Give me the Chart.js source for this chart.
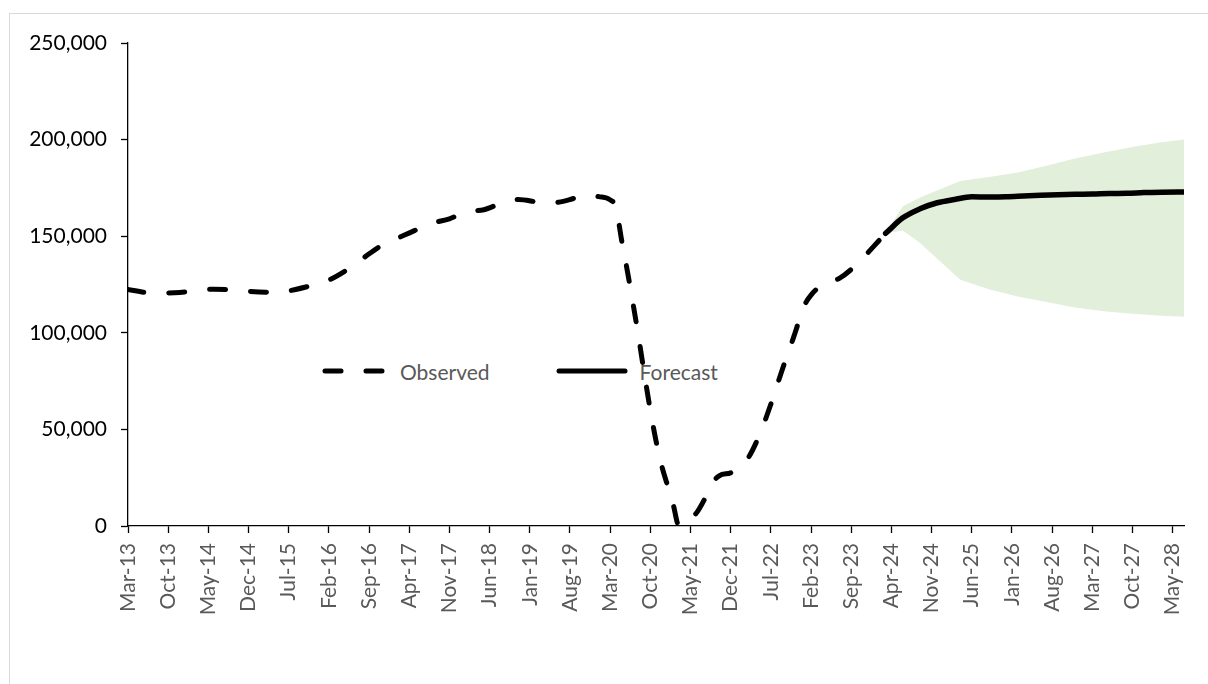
<!DOCTYPE html>
<html>
<head>
<meta charset="utf-8">
<script src="https://cdn.jsdelivr.net/npm/chart.js@4.4.1/dist/chart.umd.min.js"></script>
<style>
  html, body { margin: 0; padding: 0; background: #fff; overflow: hidden; }
  #wrap { position: relative; width: 1208px; height: 684px; }
  #frame { position: absolute; left: 9px; top: 13px; width: 1400px; height: 900px;
           border: 1.5px solid #d9d9d9; box-sizing: border-box; }
  #legend { position: absolute; left: 322px; top: 358px; height: 26px; display: flex;
            align-items: center; font-family: Lato, "Liberation Sans", sans-serif;
            font-size: 21px; color: #595959; z-index: 1; }
  #legend .item { display: flex; align-items: center; }
  #legend svg { display: block; margin-right: 12px; }
  #chart { position: absolute; left: 0; top: 0; z-index: 2; }
</style>
</head>
<body>
<div id="wrap">
  <div id="frame"></div>
  <div id="legend"></div>
  <canvas id="chart" width="1208" height="684"></canvas>
</div>
<script>
// Monthly series, dates written as they appear on the axis ("Mon-YY").
const seriesNames = ['Observed', 'Forecast'];

const tickLabels = ['Mar-13','Oct-13','May-14','Dec-14','Jul-15','Feb-16','Sep-16','Apr-17','Nov-17',
  'Jun-18','Jan-19','Aug-19','Mar-20','Oct-20','May-21','Dec-21','Jul-22','Feb-23','Sep-23',
  'Apr-24','Nov-24','Jun-25','Jan-26','Aug-26','Mar-27','Oct-27','May-28'];

const observedDates = ['Mar-13','Jun-13','Sep-13','Dec-13','Mar-14','Jun-14','Sep-14','Dec-14','Mar-15',
  'May-15','Aug-15','Nov-15','Feb-16','May-16','Aug-16','Nov-16','Feb-17','May-17','Aug-17','Nov-17',
  'Feb-18','May-18','Aug-18','Nov-18','Feb-19','Mar-19','Jun-19','Sep-19','Nov-19','Jan-20','Mar-20',
  'Apr-20','May-20','Jun-20','Jul-20','Aug-20','Sep-20','Oct-20','Nov-20','Dec-20','Jan-21','Feb-21',
  'Mar-21','Apr-21','Jun-21','Aug-21','Sep-21','Oct-21','Dec-21','Jan-22','Mar-22','May-22','Jul-22',
  'Sep-22','Nov-22','Dec-22','Jan-23','Feb-23','Apr-23','Jul-23','Oct-23','Jan-24','Mar-24'];
const observedValues = [122400,120900,120600,120900,121800,122600,122200,121500,121000,
  120900,122300,124500,127300,132300,138700,144900,149000,153000,156700,159000,
  162600,163700,167000,169000,167800,167300,167600,169800,171200,170500,168800,
  165000,148000,132000,115000,97000,78000,60000,44000,31000,21000,11000,
  0,2500,6600,17000,23000,26000,27500,29000,35000,47000,63000,
  81000,98000,107000,115000,119500,125000,128300,135500,145000,151500];

const forecastDates = ['Mar-24','Jun-24','Sep-24','Dec-24','Mar-25','Jun-25','Sep-25','Dec-25','Mar-26',
  'Jun-26','Sep-26','Dec-26','Mar-27','Jun-27','Sep-27','Dec-27','Mar-28','Jul-28'];
const forecastValues = [151500,159500,164200,167300,169000,170400,170300,170400,170800,
  171200,171500,171700,171800,172100,172200,172600,172800,172900];

const bandDates = ['Mar-24','Jun-24','Sep-24','Apr-25','Sep-25','Feb-26','Jul-26','Dec-26','May-27',
  'Oct-27','Mar-28','Jul-28'];
const bandUpper = [151500,165500,170000,178600,180600,183000,186500,190200,193300,196200,198600,200000];
const bandLower = [151500,153000,146500,127400,122500,118800,115900,113100,111200,109800,108800,108300];

// Month position on the axis, counted from the first label.
const MONTHS = ['Jan','Feb','Mar','Apr','May','Jun','Jul','Aug','Sep','Oct','Nov','Dec'];
const [m0, y0] = tickLabels[0].split('-');
const originMonth = (2000 + Number(y0)) * 12 + MONTHS.indexOf(m0);
function monthPos(label) {
  const [m, y] = label.split('-');
  return (2000 + Number(y)) * 12 + MONTHS.indexOf(m) - originMonth;
}
const pts = (dates, vals) => dates.map((d, i) => ({ x: monthPos(d), y: vals[i] }));
const tickPositions = tickLabels.map(monthPos);
const labelAt = new Map(tickPositions.map((p, i) => [p, tickLabels[i]]));
const lastMonth = monthPos(bandDates[bandDates.length - 1]);

const FONT = { family: 'Lato, "Liberation Sans", sans-serif', size: 21 };
const LINE_W = 5;

const chart = new Chart(document.getElementById('chart'), {
  type: 'line',
  data: {
    datasets: [
      { label: seriesNames[0], data: pts(observedDates, observedValues), borderColor: '#000',
        borderWidth: LINE_W, borderDash: [16, 25], borderCapStyle: 'round', borderJoinStyle: 'round',
        cubicInterpolationMode: 'monotone', fill: false, order: 0 },
      { label: seriesNames[1], data: pts(forecastDates, forecastValues), borderColor: '#000',
        borderWidth: LINE_W + 0.5, borderCapStyle: 'round', borderJoinStyle: 'round',
        cubicInterpolationMode: 'monotone', fill: false, order: 0 },
      { label: 'upper', data: pts(bandDates, bandUpper), borderWidth: 0, borderColor: 'rgba(0,0,0,0)',
        backgroundColor: '#e2efda', fill: '+1', tension: 0, order: 2 },
      { label: 'lower', data: pts(bandDates, bandLower), borderWidth: 0, borderColor: 'rgba(0,0,0,0)',
        fill: false, tension: 0, order: 2 }
    ]
  },
  options: {
    responsive: false,
    animation: false,
    devicePixelRatio: 1,
    layout: { padding: { left: 0, top: 43, right: 18, bottom: 0 } },
    elements: { point: { radius: 0, hoverRadius: 0 } },
    plugins: { legend: { display: false }, tooltip: { enabled: false } },
    scales: {
      x: {
        type: 'linear', min: 0, max: lastMonth,
        afterFit: s => { s.height = 158; },
        afterBuildTicks: s => { s.ticks = tickPositions.map(v => ({ value: v })); },
        grid: { drawOnChartArea: false, drawTicks: true, tickLength: 7, tickColor: '#000', tickWidth: 1.3 },
        border: { color: '#000', width: 1.3 },
        ticks: { autoSkip: false, minRotation: 90, maxRotation: 90, padding: 10, color: '#595959',
                 font: FONT, callback: v => labelAt.get(v) || '' }
      },
      y: {
        min: 0, max: 250000,
        afterFit: s => { s.width = 128; },
        grid: { drawOnChartArea: false, drawTicks: true, tickLength: 7, tickColor: '#000', tickWidth: 1.3 },
        border: { color: '#000', width: 1.3 },
        ticks: { stepSize: 50000, padding: 14, color: '#000', font: FONT,
                 callback: v => v.toLocaleString('en-US') }
      }
    }
  }
});

// Legend sits beneath the plotted lines.
const legend = document.getElementById('legend');
chart.data.datasets.slice(0, 2).forEach((ds, i) => {
  const item = document.createElement('div');
  item.className = 'item';
  item.style.marginRight = i === 0 ? '66px' : '0';
  const w = i === 0 ? 66 : 72;
  const dash = ds.borderDash ? 'stroke-dasharray="16 25"' : '';
  item.innerHTML = `<svg width="${w}" height="10"><line x1="3" y1="5" x2="${w - 3}" y2="5" stroke="#000"
      stroke-width="5" stroke-linecap="round" ${dash}/></svg><span>${ds.label}</span>`;
  legend.appendChild(item);
});
</script>
</body>
</html>
